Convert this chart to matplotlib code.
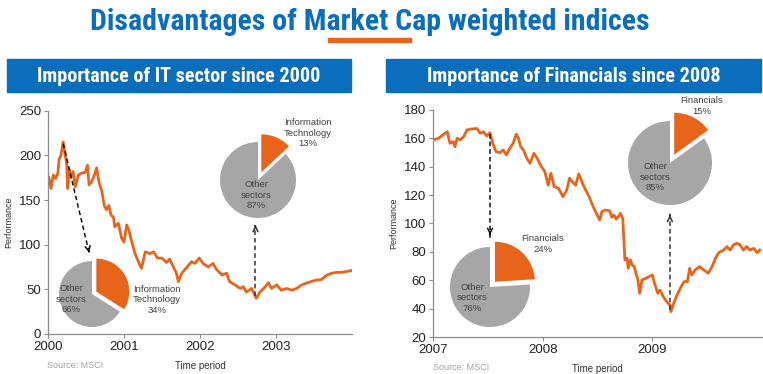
import matplotlib
matplotlib.use("Agg")
import matplotlib.pyplot as plt

# IT sector index (2000-2003)
it_years = [2000.00, 2000.01, 2000.04, 2000.07, 2000.10, 2000.13, 2000.145, 2000.17, 2000.20, 2000.22,
            2000.245, 2000.26, 2000.28, 2000.30, 2000.33, 2000.36, 2000.40, 2000.44, 2000.49, 2000.52,
            2000.54, 2000.575, 2000.61, 2000.64, 2000.67, 2000.71, 2000.74, 2000.77, 2000.80, 2000.83,
            2000.86, 2000.88, 2000.925, 2000.97, 2001.00, 2001.035, 2001.065, 2001.10, 2001.145, 2001.19,
            2001.23, 2001.28, 2001.34, 2001.39, 2001.44, 2001.50, 2001.56, 2001.60, 2001.65, 2001.69,
            2001.715, 2001.76, 2001.82, 2001.89, 2001.93, 2001.99, 2002.04, 2002.11, 2002.17, 2002.22,
            2002.29, 2002.35, 2002.39, 2002.46, 2002.53, 2002.57, 2002.61, 2002.68, 2002.74, 2002.79,
            2002.86, 2002.90, 2002.94, 2003.01, 2003.07, 2003.14, 2003.21, 2003.27, 2003.34, 2003.40,
            2003.47, 2003.54, 2003.60, 2003.67, 2003.73, 2003.80, 2003.86, 2003.93, 2003.99]
it_perf = [170.5, 176, 163, 178, 174, 180, 195, 200, 215, 204,
           191, 163, 184, 175, 182, 165, 178, 180, 181, 189,
           167, 170.5, 178, 186, 170.5, 159, 144, 139, 144, 133,
           131, 120, 124, 107, 103, 122, 116, 104, 90, 81,
           73.5, 92, 90, 92, 85, 85, 80, 84, 75, 68,
           58.6, 68, 74, 81, 79, 85, 79, 75, 79, 72,
           66, 68, 58.6, 55, 51, 53, 47, 51, 40, 47,
           53, 57.5, 51, 55, 49, 51, 49, 51, 55, 57,
           59, 60.5, 61, 66, 68, 69, 69, 70, 71]

# Financials index (2007-2009)
fin_years = [2007.00, 2007.05, 2007.09, 2007.13, 2007.155, 2007.185, 2007.20, 2007.22, 2007.25, 2007.28,
             2007.31, 2007.35, 2007.40, 2007.43, 2007.46, 2007.49, 2007.52, 2007.545, 2007.575, 2007.61,
             2007.64, 2007.67, 2007.70, 2007.73, 2007.76, 2007.78, 2007.80, 2007.825, 2007.855, 2007.885,
             2007.92, 2007.95, 2007.98, 2008.02, 2008.05, 2008.075, 2008.105, 2008.145, 2008.185, 2008.22,
             2008.245, 2008.27, 2008.30, 2008.33, 2008.37, 2008.40, 2008.43, 2008.46, 2008.49, 2008.52,
             2008.54, 2008.57, 2008.61, 2008.63, 2008.65, 2008.67, 2008.69, 2008.71, 2008.73, 2008.75,
             2008.77, 2008.78, 2008.80, 2008.815, 2008.835, 2008.85, 2008.865, 2008.885, 2008.905, 2008.94,
             2008.97, 2009.00, 2009.02, 2009.05, 2009.07, 2009.10, 2009.13, 2009.16, 2009.17, 2009.195,
             2009.225, 2009.255, 2009.29, 2009.32, 2009.34, 2009.36, 2009.39, 2009.43, 2009.47, 2009.51,
             2009.545, 2009.575, 2009.605, 2009.65, 2009.68, 2009.71, 2009.74, 2009.77, 2009.80, 2009.83,
             2009.86, 2009.89, 2009.925, 2009.955, 2009.98]
fin_perf = [158.9, 160, 162.4, 164.7, 156.5, 157.7, 154.1, 160, 159, 161.2,
            166, 166.6, 167, 163.6, 164.7, 161.7, 164, 156.5, 150.6, 149.9,
            151.8, 148.3, 153, 156.5, 163, 160, 154.1, 151.8, 146, 142.4,
            149.5, 146, 141.2, 136.5, 127, 135.4, 126, 124.8, 118.9, 123.6,
            131.9, 129.5, 127, 135, 127, 122.4, 117.8, 111.9, 107.2, 102.5,
            108.3, 109.5, 109, 104.4, 106, 103, 104.8, 107.2, 103.7, 74.3,
            75.5, 68.4, 74.3, 70.8, 69.6, 65, 61.4, 50.8, 60.2, 61.4,
            62.5, 63.7, 57.9, 50.8, 53.1, 48.4, 45, 42.6, 37.9, 43.8,
            49.6, 54.3, 59, 59, 68.4, 63.7, 67.2, 69.6, 67.2, 65,
            69.6, 75.5, 79.4, 81.3, 83.7, 81.3, 84.9, 86.1, 84.9, 81.3,
            83.7, 81.3, 82.5, 79.4, 81.3]

# pie shares: [sector, other]
it_2000 = [34, 66]
it_2003 = [13, 87]
fin_2007 = [24, 76]
fin_2009 = [15, 85]

ORANGE = '#E8641B'
GREY = '#A6A6A6'
BLUE = '#0A6EBD'
W, H = 763, 374

plt.rcParams['font.family'] = ['Liberation Sans', 'DejaVu Sans']
NARROW = ['Roboto Condensed', 'DejaVu Sans']


def fx(px):
    return px / W


def fy(py):
    return 1 - py / H


fig = plt.figure(figsize=(W / 100, H / 100), dpi=100)

# title + underline
fig.text(fx(370), fy(22), 'Disadvantages of Market Cap weighted indices', family=NARROW,
         fontweight='bold', fontsize=21.5, color=BLUE, ha='center', va='center')
fig.patches.append(plt.Rectangle((fx(328), fy(42)), fx(83), 4 / H, color=ORANGE,
                                 transform=fig.transFigure, figure=fig))

# banners
for x0, x1, txt in [(7, 351, 'Importance of IT sector since 2000'),
                    (386, 761, 'Importance of Financials since 2008')]:
    fig.patches.append(plt.Rectangle((fx(x0), fy(92)), (x1 - x0) / W, 33 / H, color=BLUE,
                                     transform=fig.transFigure, figure=fig))
    fig.text(fx((x0 + x1) / 2), fy(76), txt, family=NARROW, fontweight='bold', fontsize=14.5,
             color='white', ha='center', va='center')


def style_axes(ax):
    for s in ['top', 'right']:
        ax.spines[s].set_visible(False)
    for s in ['left', 'bottom']:
        ax.spines[s].set_color('#8C8C8C')
        ax.spines[s].set_linewidth(0.9)
    ax.tick_params(axis='both', colors='#8C8C8C', labelcolor='#222222', labelsize=9.5,
                   length=3, width=0.8, pad=2)
    ax.set_ylabel('Performance', fontsize=6.5, color='#333333', labelpad=4)
    ax.set_xlabel('Time period', fontsize=7, color='#333333', labelpad=6)


def dashed_arrow(ax, start, end, color):
    ax.plot([start[0], end[0]], [start[1], end[1]], ls=(0, (3, 2)), color=color, lw=1.1)
    dx = (end[0] - start[0]) * 0.06
    dy = (end[1] - start[1]) * 0.06
    ax.annotate('', xy=end, xytext=(end[0] - dx, end[1] - dy),
                arrowprops=dict(arrowstyle='->', color=color, lw=1.1, mutation_scale=9))


def pie(cx, cy, r, vals, explode):
    size = r * 1.4
    a = fig.add_axes([fx(cx - size), fy(cy + size), 2 * size / W, 2 * size / H])
    a.pie(vals, colors=[ORANGE, GREY], startangle=90, counterclock=False,
          explode=[explode, 0], wedgeprops=dict(linewidth=0))
    a.set_xlim(-1.4, 1.4)
    a.set_ylim(-1.4, 1.4)
    a.axis('off')


def label(px, py, txt):
    fig.text(fx(px), fy(py), txt, fontsize=6.8, color='#404040', ha='center', va='center',
             linespacing=1.15)


# left chart
ax1 = fig.add_axes([fx(48), fy(334), (352 - 48) / W, (334 - 110.7) / H])
ax1.plot(it_years, it_perf, color=ORANGE, lw=2.0)
ax1.set_xlim(2000, 2004)
ax1.set_ylim(0, 250)
ax1.set_xticks([2000, 2001, 2002, 2003])
ax1.set_xticklabels(['2000', '2001', '2002', '2003'])
ax1.set_yticks([0, 50, 100, 150, 200, 250])
style_axes(ax1)
dashed_arrow(ax1, (2000.2, 213), (2000.55, 88), '#111111')
dashed_arrow(ax1, (2002.73, 42), (2002.73, 122), '#333333')

# right chart
ax2 = fig.add_axes([fx(433), fy(337), (762 - 433) / W, (337 - 110) / H])
ax2.plot(fin_years, fin_perf, color=ORANGE, lw=2.0)
ax2.set_xlim(2007, 2010)
ax2.set_ylim(20, 180)
ax2.set_xticks([2007, 2008, 2009])
ax2.set_xticklabels(['2007', '2008', '2009'])
ax2.set_yticks(range(20, 181, 20))
style_axes(ax2)
dashed_arrow(ax2, (2007.52, 163), (2007.52, 90), '#111111')
dashed_arrow(ax2, (2009.16, 39), (2009.16, 108), '#333333')

# pies
pie(92, 294, 33, it_2000, 0.15)
pie(258, 180, 38, it_2003, 0.22)
pie(490, 287, 40, fin_2007, 0.18)
pie(670, 163, 42, fin_2009, 0.22)

label(71, 299, 'Other\nsectors\n66%')
label(157, 300, 'Information\nTechnology\n34%')
label(308, 133, 'Information\nTechnology\n13%')
label(256, 195, 'Other\nsectors\n87%')
label(543, 244, 'Financials\n24%')
label(472, 298, 'Other\nsectors\n76%')
label(702, 106, 'Financials\n15%')
label(655, 177, 'Other\nsectors\n85%')

fig.text(fx(47), fy(366), 'Source: MSCI', fontsize=6.5, color='#A0A0A0', va='center')
fig.text(fx(433), fy(367), 'Source: MSCI', fontsize=6.5, color='#A0A0A0', va='center')

fig.savefig('out.png', dpi=100)
